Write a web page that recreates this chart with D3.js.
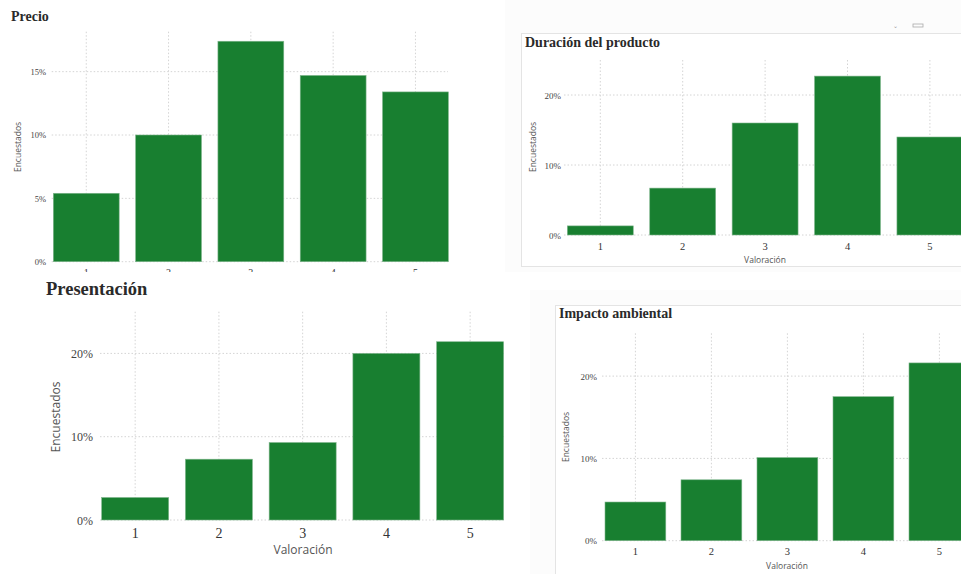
<!DOCTYPE html>
<html><head><meta charset="utf-8">
<script src="https://cdn.jsdelivr.net/npm/d3@7"></script>
<style>html,body{margin:0;padding:0;background:#fff;}svg{display:block;}</style>
</head><body>
<svg id="c" width="961" height="574"></svg>
<script>
// ---- data ----
const categories = ["1","2","3","4","5"];
const precioValues = [0.054, 0.100, 0.174, 0.147, 0.134];
const duracionValues = [0.013, 0.067, 0.160, 0.227, 0.140];
const presentacionValues = [0.027, 0.073, 0.093, 0.200, 0.214];
const impactoValues = [0.047, 0.074, 0.101, 0.175, 0.216];
const precioTicks = [0, 0.05, 0.10, 0.15];
const duracionTicks = [0, 0.10, 0.20];
const presentacionTicks = [0, 0.10, 0.20];
const impactoTicks = [0, 0.10, 0.20];
const titles = ["Precio", "Duración del producto", "Presentación", "Impacto ambiental"];
const yTitle = "Encuestados";
const xTitle = "Valoración";

const svg = d3.select("#c");
const GREEN = "#187f30";
const serif = "'Liberation Serif','DejaVu Serif',serif";
const sans = "'Open Sans','Noto Sans',sans-serif";

// backgrounds
svg.append("rect").attr("x",0).attr("y",0).attr("width",961).attr("height",574).attr("fill","#fff");
svg.append("rect").attr("x",505).attr("y",0).attr("width",456).attr("height",272).attr("fill","#fcfcfc");
svg.append("rect").attr("x",521.5).attr("y",33.5).attr("width",460).attr("height",233).attr("fill","#fff").attr("stroke","#e4e4e4");
svg.append("rect").attr("x",530).attr("y",290).attr("width",431).attr("height",284).attr("fill","#fcfcfc");
svg.append("rect").attr("x",555.5).attr("y",305.5).attr("width",430).attr("height",280).attr("fill","#fff").attr("stroke","#e4e4e4");
// tiny header icons of panel 2
svg.append("text").attr("x",893).attr("y",28).attr("font-size",6).attr("fill","#999").attr("font-family",sans).text("⌄");
svg.append("rect").attr("x",913).attr("y",24).attr("width",10).attr("height",3).attr("fill","none").attr("stroke","#aaa").attr("stroke-width",0.8);

function panel(cfg) {
  const g = svg.append("g");
  if (cfg.clipId) {
    svg.append("clipPath").attr("id", cfg.clipId).append("rect")
      .attr("x",0).attr("y",0).attr("width",cfg.clipW).attr("height",cfg.clipH);
    g.attr("clip-path", `url(#${cfg.clipId})`);
  }
  const x = d3.scaleBand().domain(categories).range(cfg.xr).paddingInner(0.2).paddingOuter(0.1);
  const y = d3.scaleLinear().domain([0, 0.1]).range([cfg.y0, cfg.y0 - cfg.per10]);

  // horizontal grid
  g.append("g").selectAll("line").data(cfg.ticks).join("line")
    .attr("x1", cfg.gx0).attr("x2", cfg.gx1)
    .attr("y1", d => y(d)).attr("y2", d => y(d))
    .attr("stroke", "#d4d4d4").attr("stroke-width", 1).attr("stroke-dasharray", "1.5,2");
  // vertical grid
  g.append("g").selectAll("line").data(categories).join("line")
    .attr("x1", d => x(d) + x.bandwidth()/2).attr("x2", d => x(d) + x.bandwidth()/2)
    .attr("y1", cfg.top).attr("y2", cfg.y0)
    .attr("stroke", "#d4d4d4").attr("stroke-width", 1).attr("stroke-dasharray", "1.5,2");

  // bars
  g.append("g").selectAll("rect").data(cfg.values).join("rect")
    .attr("x", (d,i) => x(categories[i]))
    .attr("y", d => y(d))
    .attr("width", x.bandwidth())
    .attr("height", d => y(0) - y(d))
    .attr("fill", GREEN)
    .attr("stroke", "#7fb58c").attr("stroke-width", 0.6);

  // y axis
  const ya = d3.axisLeft(y).tickValues(cfg.ticks).tickFormat(d3.format(".0%")).tickSize(0).tickPadding(0);
  const yg = g.append("g").attr("transform", `translate(${cfg.ylx},0)`).call(ya);
  yg.select(".domain").remove();
  yg.selectAll("text").attr("font-family", serif).attr("font-size", cfg.tickFs).attr("fill", "#444").attr("dy","0.35em");

  // x axis
  const xa = d3.axisBottom(x).tickSize(0).tickPadding(0);
  const xg = g.append("g").attr("transform", `translate(0,${cfg.xly})`).call(xa);
  xg.select(".domain").remove();
  xg.selectAll("text").attr("font-family", serif).attr("font-size", cfg.xFs).attr("fill", "#333").attr("dy","0");

  // titles
  g.append("text").attr("x", cfg.tx).attr("y", cfg.ty).attr("font-family", serif)
    .attr("font-weight", "bold").attr("font-size", cfg.titleFs).attr("fill", "#2a2a2a").text(cfg.title);
  g.append("text").attr("transform", `translate(${cfg.ytx},${cfg.yty}) rotate(-90)`)
    .attr("text-anchor","middle").attr("dominant-baseline","central")
    .attr("font-family", sans).attr("font-size", cfg.axFs).attr("fill", "#555").text(yTitle);
  if (cfg.xtx != null) {
    g.append("text").attr("x", cfg.xtx).attr("y", cfg.xty).attr("text-anchor","middle")
      .attr("font-family", sans).attr("font-size", cfg.axFs).attr("fill", "#555").text(xTitle);
  }
}

panel({values: precioValues, ticks: precioTicks, title: titles[0],
  xr: [45.1, 456.6], y0: 261.7, per10: 126.7, top: 31.7, gx0: 51.7, gx1: 448,
  ylx: 46, tickFs: 8.5, xly: 276, xFs: 10, tx: 11, ty: 21, titleFs: 14,
  ytx: 17, yty: 147, axFs: 8.5, xtx: null, clipId: "c1", clipW: 505, clipH: 272});

panel({values: duracionValues, ticks: duracionTicks, title: titles[1],
  xr: [559.1, 971.1], y0: 235, per10: 70, top: 60, gx0: 564, gx1: 961,
  ylx: 561, tickFs: 9, xly: 250, xFs: 10.5, tx: 525, ty: 47, titleFs: 14,
  ytx: 532, yty: 147, axFs: 8.5, xtx: 765, xty: 262.5});

panel({values: presentacionValues, ticks: presentacionTicks, title: titles[2],
  xr: [93.3, 512], y0: 520, per10: 83.3, top: 311.7, gx0: 100, gx1: 505,
  ylx: 93, tickFs: 12, xly: 538, xFs: 14, tx: 46, ty: 295, titleFs: 18.5,
  ytx: 55, yty: 417, axFs: 12, xtx: 303, xty: 554});

panel({values: impactoValues, ticks: impactoTicks, title: titles[3],
  xr: [597.4, 977.4], y0: 540.7, per10: 82.3, top: 333.3, gx0: 602, gx1: 961,
  ylx: 597, tickFs: 9, xly: 555, xFs: 10.5, tx: 559, ty: 318, titleFs: 14,
  ytx: 565, yty: 437, axFs: 8.5, xtx: 787, xty: 568.5});
</script>
</body></html>
